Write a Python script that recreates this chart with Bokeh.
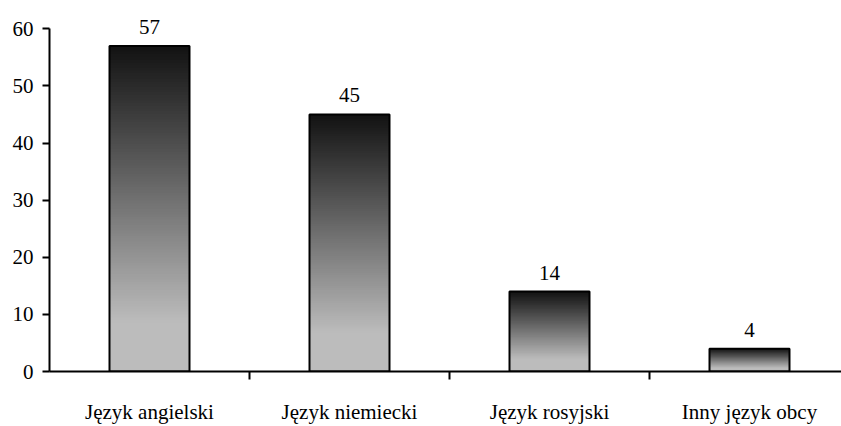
from bokeh.plotting import figure
from bokeh.models import ColumnDataSource, FixedTicker, Range1d
from bokeh.core.properties import value
from bokeh.embed import file_html
from bokeh.resources import INLINE

categories = ["Język angielski", "Język niemiecki", "Język rosyjski", "Inny język obcy"]
values = [57, 45, 14, 4]
y_ticks = [0, 10, 20, 30, 40, 50, 60]

FONT = "Times New Roman"
centers = [i + 0.5 for i in range(len(categories))]
px_per_unit = 351 / 60.0

p = figure(width=841, height=426, output_backend="svg", toolbar_location=None,
           x_range=Range1d(0, 3.96), y_range=Range1d(0, 60 + 29 / px_per_unit),
           min_border_left=49, min_border_right=0, min_border_top=0, min_border_bottom=46)
p.outline_line_color = None
p.xgrid.visible = False
p.ygrid.visible = False
p.background_fill_color = "white"
p.border_fill_color = "white"

# gradient: overlapping slices, drawn tallest first
N = 120
xs, tops, cols = [], [], []
top_c, bot_c = 18, 188
for k in range(N - 1, -1, -1):
    for c, v in zip(centers, values):
        t = v * (k + 1) / N
        frac_from_top = 1 - (k + 0.5) / N
        s = min(1.0, frac_from_top / 0.85)
        g = int(round(top_c + (bot_c - top_c) * s))
        xs.append(c); tops.append(t); cols.append("#%02x%02x%02x" % (g, g, g))
src = ColumnDataSource(dict(x=xs, top=tops, color=cols))
p.vbar(x="x", bottom=0, top="top", width=0.4, source=src,
       fill_color="color", line_color=None)

bsrc = ColumnDataSource(dict(x=centers, top=values, lab=[str(v) for v in values]))
p.vbar(x="x", top="top", bottom=0, width=0.4, source=bsrc,
       fill_alpha=0, line_color="black", line_width=2)
p.text(x="x", y="top", text="lab", source=bsrc, text_align="center", text_baseline="bottom",
       y_offset=-12, text_font=value(FONT), text_font_size="21px", text_color="black")

# axes
p.yaxis.ticker = FixedTicker(ticks=y_ticks)
p.yaxis.bounds = (0, 60)
p.yaxis.axis_line_width = 2
p.yaxis.major_tick_line_width = 2
p.yaxis.major_tick_in = 0
p.yaxis.major_tick_out = 7
p.yaxis.minor_tick_line_color = None
p.yaxis.major_label_standoff = 9
p.yaxis.major_label_text_font = FONT
p.yaxis.major_label_text_font_size = "21px"
p.yaxis.major_label_text_color = "black"

p.xaxis.ticker = FixedTicker(ticks=centers, minor_ticks=[1, 2, 3, 4])
p.xaxis.major_label_overrides = {c: lab for c, lab in zip(centers, categories)}
p.xaxis.axis_line_width = 2
p.xaxis.major_tick_line_color = None
p.xaxis.major_tick_in = 0
p.xaxis.major_tick_out = 0
p.xaxis.minor_tick_line_width = 2
p.xaxis.minor_tick_in = 0
p.xaxis.minor_tick_out = 8
p.xaxis.major_label_standoff = 20
p.xaxis.major_label_text_font = FONT
p.xaxis.major_label_text_font_size = "21px"
p.xaxis.major_label_text_color = "black"

open("out.html", "w").write(file_html(p, INLINE))
